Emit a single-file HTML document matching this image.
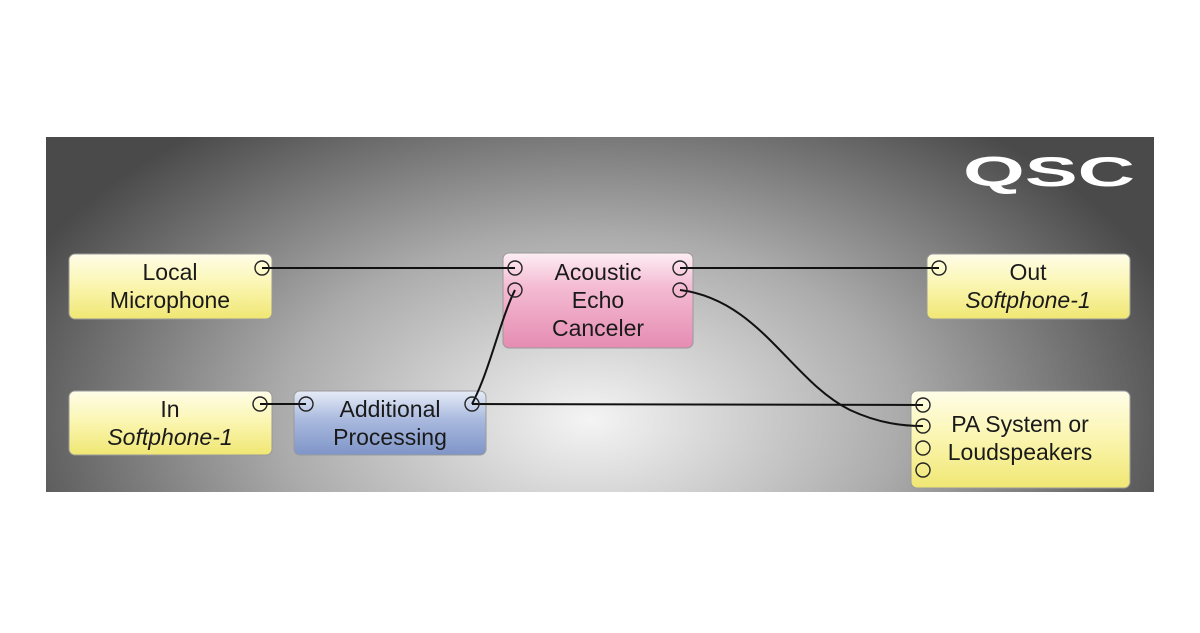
<!DOCTYPE html>
<html><head><meta charset="utf-8"><style>
body{margin:0;width:1200px;height:628px;background:#fff;overflow:hidden}
</style></head><body>
<svg width="1200" height="628" viewBox="0 0 1200 628" xmlns="http://www.w3.org/2000/svg" font-family="Liberation Sans, sans-serif">
<defs>
<radialGradient id="bg" cx="590" cy="420" r="620" gradientUnits="userSpaceOnUse" gradientTransform="translate(590 420) scale(1 0.6) translate(-590 -420)">
<stop offset="0" stop-color="#f4f4f4"/><stop offset="0.5" stop-color="#ababab"/><stop offset="1" stop-color="#4a4a4a"/>
</radialGradient>
<linearGradient id="y" x1="0" y1="0" x2="0" y2="1"><stop offset="0" stop-color="#fffde8"/><stop offset="0.45" stop-color="#fbf6b4"/><stop offset="1" stop-color="#f0e773"/></linearGradient>
<linearGradient id="p" x1="0" y1="0" x2="0" y2="1"><stop offset="0" stop-color="#fdeef4"/><stop offset="0.35" stop-color="#f4bcd3"/><stop offset="1" stop-color="#e58cb2"/></linearGradient>
<linearGradient id="b" x1="0" y1="0" x2="0" y2="1"><stop offset="0" stop-color="#e6ecf7"/><stop offset="0.45" stop-color="#a9b9de"/><stop offset="1" stop-color="#7f95c8"/></linearGradient>
</defs>
<rect x="46" y="137" width="1108" height="355" fill="url(#bg)"/>
<text x="963" y="186" font-size="42" font-weight="bold" fill="#fff" textLength="172" lengthAdjust="spacingAndGlyphs">QSC</text>
<g stroke="#9a9a9a" stroke-width="1">
<rect x="69" y="254" width="203" height="65" rx="6" fill="url(#y)"/>
<rect x="69" y="391" width="203" height="64" rx="6" fill="url(#y)"/>
<rect x="294" y="391" width="192" height="64" rx="6" fill="url(#b)"/>
<rect x="503" y="253" width="190" height="95" rx="6" fill="url(#p)"/>
<rect x="927" y="254" width="203" height="65" rx="6" fill="url(#y)"/>
<rect x="911" y="391" width="219" height="97" rx="6" fill="url(#y)"/>
</g>
<g fill="none" stroke="#111" stroke-width="2">
<line x1="262" y1="268" x2="515" y2="268"/>
<line x1="680" y1="268" x2="939" y2="268"/>
<line x1="260" y1="404" x2="306" y2="404"/>
<line x1="472" y1="404" x2="923" y2="405"/>
<path d="M472 404 C490 370 500 320 515 290"/>
<path d="M680 290 C760 300 790 380 850 410 C880 424 905 426 923 426"/>
</g>
<g fill="none" stroke="#222" stroke-width="1.4">
<circle cx="262" cy="268" r="7"/><circle cx="260" cy="404" r="7"/>
<circle cx="306" cy="404" r="7"/><circle cx="472" cy="404" r="7"/>
<circle cx="515" cy="268" r="7"/><circle cx="515" cy="290" r="7"/>
<circle cx="680" cy="268" r="7"/><circle cx="680" cy="290" r="7"/>
<circle cx="939" cy="268" r="7"/>
<circle cx="923" cy="405" r="7"/><circle cx="923" cy="426" r="7"/><circle cx="923" cy="448" r="7"/><circle cx="923" cy="470" r="7"/>
</g>
<g font-size="23" fill="#1a1a1a" text-anchor="middle">
<text x="170" y="280">Local</text><text x="170" y="308">Microphone</text>
<text x="170" y="417">In</text><text x="170" y="445" font-style="italic">Softphone-1</text>
<text x="390" y="417">Additional</text><text x="390" y="445">Processing</text>
<text x="598" y="280">Acoustic</text><text x="598" y="308">Echo</text><text x="598" y="336">Canceler</text>
<text x="1028" y="280">Out</text><text x="1028" y="308" font-style="italic">Softphone-1</text>
<text x="1020" y="432">PA System or</text><text x="1020" y="460">Loudspeakers</text>
</g>
</svg>
</body></html>
